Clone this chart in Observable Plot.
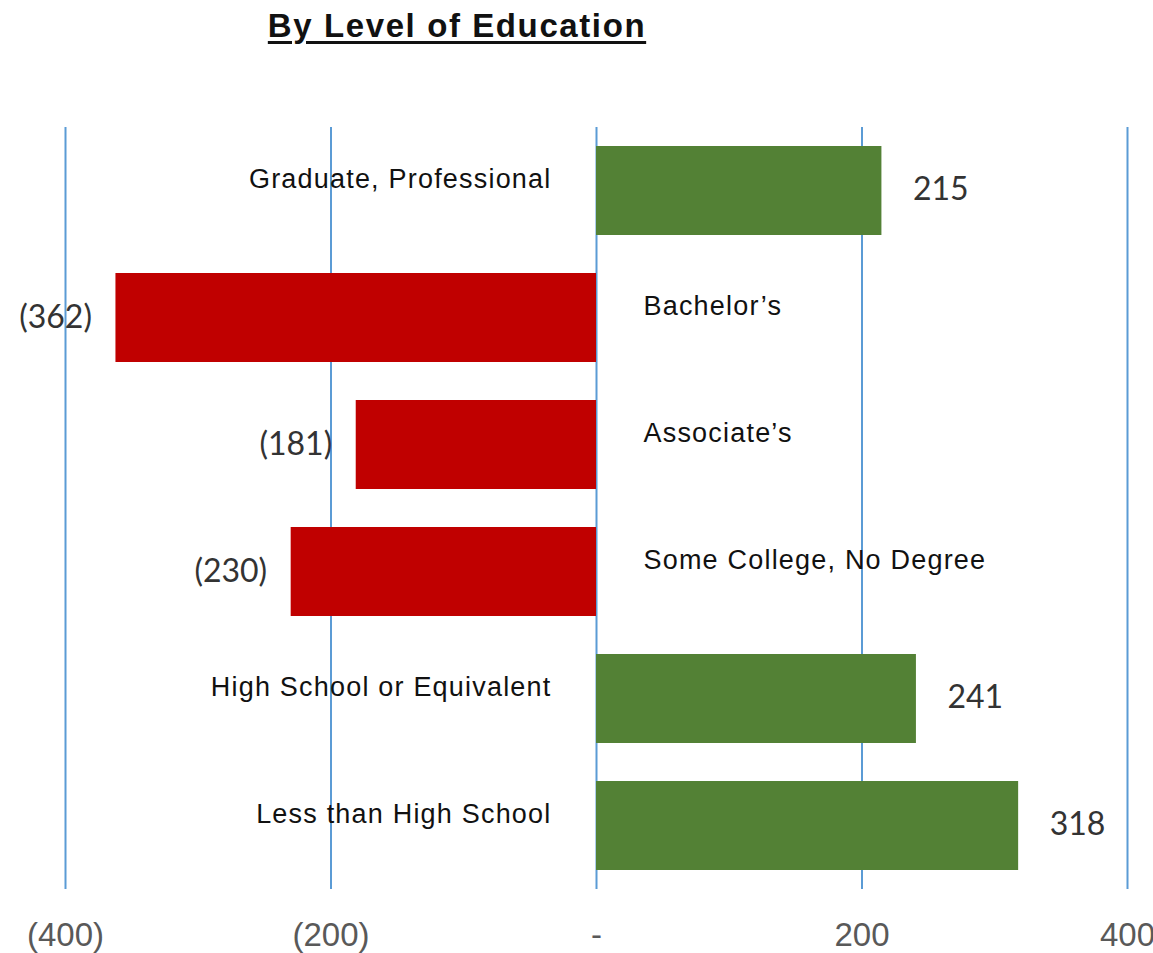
<!DOCTYPE html>
<html>
<head>
<meta charset="utf-8">
<script src="https://cdn.jsdelivr.net/npm/d3@7"></script>
<script src="https://cdn.jsdelivr.net/npm/@observablehq/plot@0.6"></script>
<style>
  body { margin: 0; background: #ffffff; }
  #title {
    width: 914px; height: 60px; box-sizing: border-box; padding-top: 4px;
    text-align: center; font-family: "Liberation Sans", Arial, sans-serif;
    font-size: 33px; font-weight: bold; line-height: 44px; letter-spacing: 1.6px;
    color: #111; text-decoration: underline; text-decoration-thickness: 3px;
    text-underline-offset: 4px;
  }
</style>
</head>
<body>
<div id="title">By Level of Education</div>
<div id="chart"></div>
<script>
const categories = ["Graduate, Professional", "Bachelor’s", "Associate’s", "Some College, No Degree", "High School or Equivalent", "Less than High School"];
const values = [215, -362, -181, -230, 241, 318];
const tickValues = [-400, -200, 0, 200, 400];

const GREEN = "#538135";
const RED = "#c00000";
const fmt = v => v < 0 ? `(${Math.abs(v)})` : v === 0 ? "-" : String(v);

const data = categories.map((c, i) => ({category: c, value: values[i]}));
const pos = data.filter(d => d.value >= 0);
const neg = data.filter(d => d.value < 0);

const labelFont = "'Liberation Sans', Arial, sans-serif";
const valueFont = "Lato, 'Open Sans', sans-serif";

const chart = Plot.plot({
  width: 1153,
  height: 893,
  marginLeft: 65,
  marginRight: 26,
  marginTop: 67,
  marginBottom: 64,
  style: {background: "#ffffff", overflow: "visible"},
  x: {domain: [-400, 400]},
  y: {domain: categories, paddingInner: 0.3, paddingOuter: 0.15, axis: null},
  marks: [
    Plot.gridX(tickValues, {stroke: "#5b9bd5", strokeOpacity: 1, strokeWidth: 2}),
    Plot.barX(data, {x: "value", y: "category", fill: d => d.value < 0 ? RED : GREEN}),
    Plot.text(pos, {x: "value", y: "category", text: d => fmt(d.value), textAnchor: "start", dx: 31, dy: -1, fontSize: 32, fontFamily: valueFont, fill: "#333"}),
    Plot.text(neg, {x: "value", y: "category", text: d => fmt(d.value), textAnchor: "end", dx: -24, dy: 0, fontSize: 32, fontFamily: valueFont, fill: "#333"}),
    Plot.text(pos, {x: 0, y: "category", text: "category", textAnchor: "end", dx: -45, dy: -12, fontSize: 27, fontFamily: labelFont, fill: "#111"}),
    Plot.text(neg, {x: 0, y: "category", text: "category", textAnchor: "start", dx: 47, dy: -12, fontSize: 27, fontFamily: labelFont, fill: "#111"}),
    Plot.axisX({ticks: tickValues, tickFormat: fmt, tickSize: 0, tickPadding: 33, fontSize: 33, fontFamily: labelFont, fill: "#595959", label: null})
  ]
});
chart.querySelectorAll("text").forEach(t => {
  if (categories.includes(t.textContent)) t.style.letterSpacing = "1.2px";
});
document.getElementById("chart").appendChild(chart);
</script>
</body>
</html>
